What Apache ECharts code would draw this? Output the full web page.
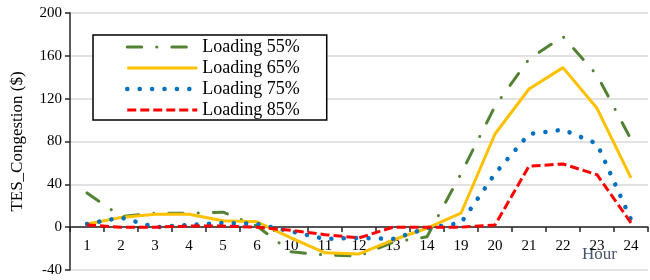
<!DOCTYPE html>
<html>
<head>
<meta charset="utf-8">
<script src="https://cdn.jsdelivr.net/npm/echarts@6/dist/echarts.min.js"></script>
<style>html,body{margin:0;padding:0;background:#fff}#c{width:650px;height:280px}</style>
</head>
<body>
<div id="c"></div>
<script>
const hours = ['1','2','3','4','5','6','10','11','12','13','14','19','20','21','22','23','24'];
const loading55 = [32, 10, 13, 13, 14, 1, -23, -26, -27, -14, -9, 50, 113, 157, 178, 142, 82];
const loading65 = [3, 9, 12, 12, 6, 5, -10, -24, -25, -12, -1, 13, 87, 129, 149, 111, 46];
const loading75 = [3, 9, 0, 2, 4, 3, -4, -11, -10, -11, -1, 4, 50, 87, 91, 78, 7];
const loading85 = [2, 0, 0, 1, 1, 0, -3, -7, -10, 0, 0, 0, 2, 57, 59, 49, 4];
const yTicks = { min: -40, max: 200, step: 40 };
const seriesNames = ['Loading 55%', 'Loading 65%', 'Loading 75%', 'Loading 85%'];
const seriesColors = ['#548235', '#FFC000', '#0070C0', '#FF0000'];
const seriesWidths = [3, 3, 4.5, 3];
const seriesDash = [[14.5, 15, 0.1, 15], 'solid', [0.1, 12.3], [9, 4]];
const seriesCaps = ['round', 'butt', 'round', 'butt'];
const seriesData = [loading55, loading65, loading75, loading85];

const FONT = "'Liberation Serif', 'Times New Roman', serif";
const chart = echarts.init(document.getElementById('c'), null, { renderer: 'canvas' });
chart.setOption({
  animation: false,
  backgroundColor: '#ffffff',
  grid: { left: 70, right: 2, top: 13, bottom: 10, containLabel: false, outerBoundsMode: 'none' },
  legend: {
    data: seriesNames.map((n, i) => ({
      name: n,
      lineStyle: { color: seriesColors[i], width: seriesWidths[i], type: seriesDash[i], cap: seriesCaps[i] }
    })),
    orient: 'vertical',
    left: 93, top: 35,
    padding: [3, 27, 1, 32],
    itemWidth: 70, itemHeight: 14, itemGap: 3,
    borderColor: '#000', borderWidth: 1.5,
    backgroundColor: '#fff',
    itemStyle: { opacity: 0 },
    textStyle: { fontFamily: FONT, fontSize: 18, color: '#000', lineHeight: 18, padding: [0, 0, 0, 0] }
  },
  xAxis: {
    type: 'category',
    data: hours,
    boundaryGap: true,
    position: 'bottom',
    offset: -43,
    axisLine: { onZero: false, lineStyle: { color: '#262626', width: 1.5 } },
    axisTick: { show: true, alignWithLabel: false, length: 5, lineStyle: { color: '#262626', width: 1.5 } },
    axisLabel: { fontFamily: FONT, fontSize: 15, color: '#000', margin: 12, interval: 0 },
    splitLine: { show: false }
  },
  yAxis: {
    type: 'value',
    min: yTicks.min, max: yTicks.max, interval: yTicks.step,
    name: 'TES_Congestion ($)',
    nameLocation: 'middle',
    nameGap: 44,
    nameTextStyle: { fontFamily: FONT, fontSize: 17, color: '#000' },
    axisLine: { show: true, onZero: false, lineStyle: { color: '#262626', width: 1.5 } },
    axisTick: { show: true, length: 5, lineStyle: { color: '#262626', width: 1.5 } },
    axisLabel: { fontFamily: FONT, fontSize: 15, color: '#000', margin: 8 },
    splitLine: { show: true, lineStyle: { color: '#d9d9d9', width: 1.5 } }
  },
  graphic: [{
    type: 'text', left: 582, top: 246,
    style: { text: 'Hour', font: "17px 'Liberation Serif', serif", fill: '#44546A' }
  }],
  series: seriesNames.map((n, i) => ({
    name: n, type: 'line', data: seriesData[i], symbol: 'none', showSymbol: false,
    lineStyle: { color: seriesColors[i], width: seriesWidths[i], type: seriesDash[i], cap: seriesCaps[i] },
    itemStyle: { color: seriesColors[i] }
  }))
});
</script>
</body>
</html>
